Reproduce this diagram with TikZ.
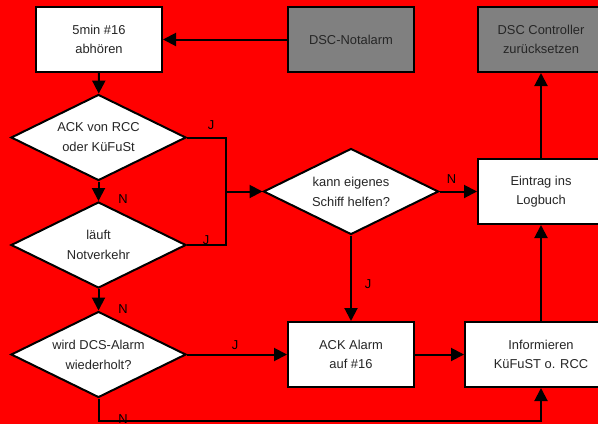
\documentclass[tikz,border=0pt]{standalone}
\usepackage{fontspec}
\setmainfont{Liberation Sans}
\usetikzlibrary{shapes.geometric,arrows.meta}

\tikzset{
  box/.style={draw, line width=2pt, fill=white, minimum width=126pt, minimum height=65pt,
    inner sep=0pt, align=center, text=black!85, font=\fontsize{12.9}{19.5}\selectfont},
  greybox/.style={box, fill=gray},
  decision/.style={diamond, draw, line width=2pt, fill=white, minimum width=175pt,
    minimum height=86pt, aspect=2.05, inner sep=0pt, align=center, text=black!85,
    font=\fontsize{12.9}{20}\selectfont},
  conn/.style={line width=2pt, -{Triangle[length=13pt,width=13pt]}},
  lab/.style={font=\fontsize{12.9}{14}\selectfont}
}

\begin{document}
\begin{tikzpicture}[x=1pt, y=-1pt]
  \useasboundingbox (0,0) rectangle (598,424);
  \fill[red] (0,0) rectangle (598,424);
  \clip (0,0) rectangle (598,424);

  % boxes
  \node[box] (listen) at (99,39.5) {5min \#16\\abhören};
  \node[greybox] (alarm) at (351,39.5) {DSC-Notalarm};
  \node[greybox] (reset) at (541,39.5) {DSC Controller\\zurücksetzen};
  \node[box] (log) at (541,191.5) {Eintrag ins\\Logbuch};
  \node[box] (ackalarm) at (351,354.5) {ACK Alarm\\auf \#16};
  \node[box, minimum width=152pt] (inform) at (541,354.5) {Informieren\\KüFuST o. RCC};

  % decisions
  \node[decision] (ack) at (98.5,137.5) {ACK von RCC\\oder KüFuSt};
  \node[decision] (traffic) at (98.5,245) {läuft\\Notverkehr};
  \node[decision] (repeat) at (98.5,354.5) {wird DCS-Alarm\\wiederholt?};
  \node[decision] (help) at (351,191.5) {kann eigenes\\Schiff helfen?};

  \coordinate (join) at (226,191.5);
  \coordinate (turn) at (98.5,421);

  % connectors
  \draw[conn] (alarm) -- (listen);
  \draw[conn] (listen) -- (ack);
  \draw[conn] (ack) -- (traffic) node[lab, at end, xshift=24.5pt, yshift=2pt] {N};
  \draw[conn] (traffic) -- (repeat) node[lab, at end, xshift=24.5pt, yshift=1.5pt] {N};
  \draw[line width=2pt] (ack.east) -| (join) node[lab, at start, xshift=24pt, yshift=12.5pt] {J};
  \draw[line width=2pt] (traffic.east) -| (join) node[lab, at start, xshift=19pt, yshift=5pt] {J};
  \draw[conn] (join) -- (help.west);
  \draw[conn] (help.east) -- (log.west) node[lab, at start, xshift=12pt, yshift=12.5pt] {N};
  \draw[conn] (help.south) -- node[lab, xshift=17pt, yshift=-5.5pt] {J} (ackalarm.north);
  \draw[conn] (repeat.east) -- node[lab, xshift=-2pt, yshift=9.5pt] {J} (ackalarm.west);
  \draw[conn] (ackalarm.east) -- (inform.west);
  \draw[conn] (repeat.south) -- (turn) -| node[lab, at start, xshift=24.5pt, yshift=2pt] {N} (inform.south);
  \draw[conn] (inform.north) -- (log.south);
  \draw[conn] (log.north) -- (reset.south);
\end{tikzpicture}
\end{document}
